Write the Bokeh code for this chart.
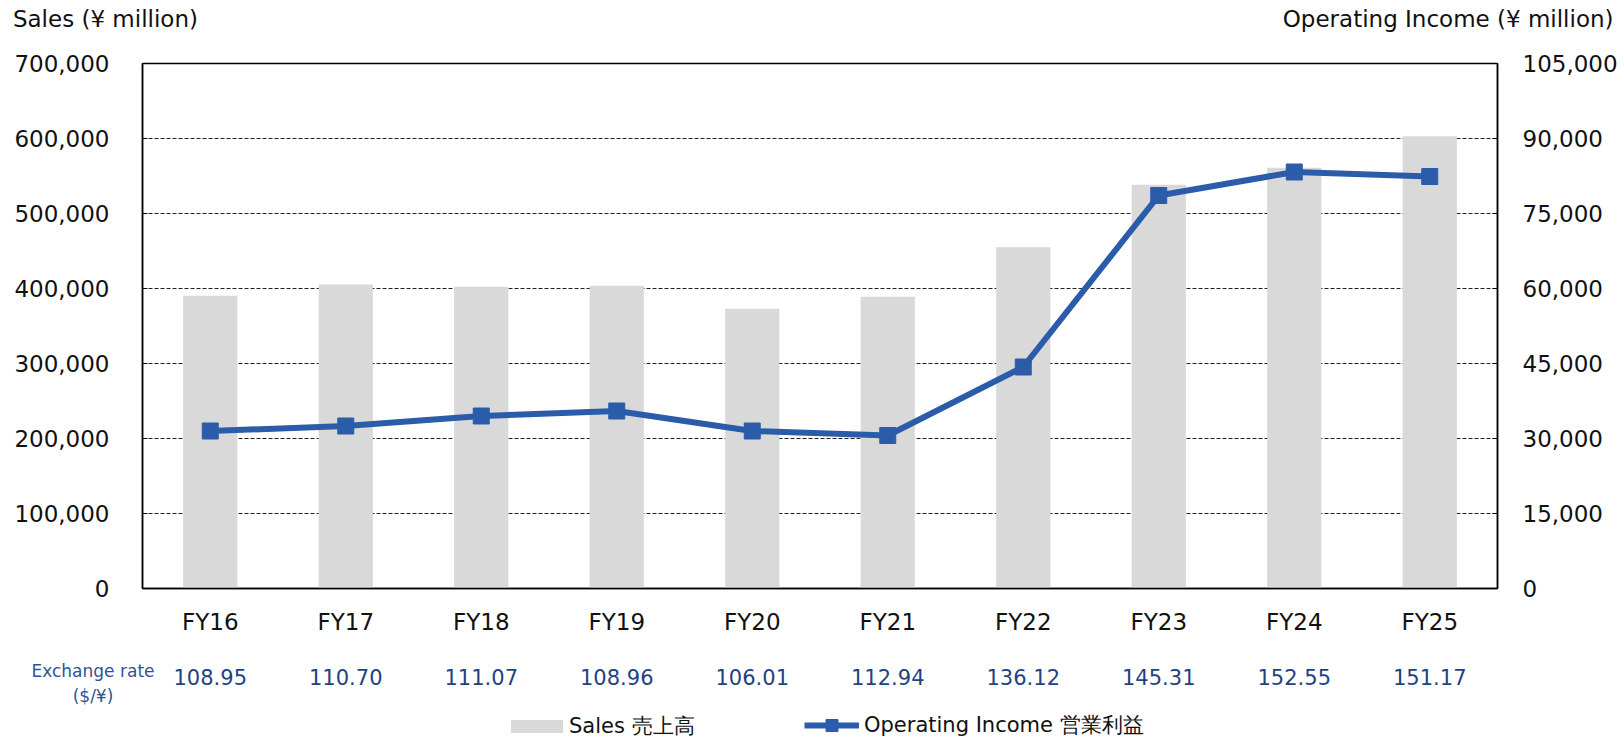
from bokeh.plotting import figure
from bokeh.models import (Range1d, LinearAxis, FixedTicker, NumeralTickFormatter, FactorRange,
                          ColumnDataSource, Legend, LegendItem)
from bokeh.core.properties import value
from bokeh.embed import file_html
from bokeh.resources import INLINE

# ---- data ----
years = ["FY16", "FY17", "FY18", "FY19", "FY20", "FY21", "FY22", "FY23", "FY24", "FY25"]
sales = [390400, 405500, 402500, 403700, 373000, 389000, 455000, 538500, 561000, 603000]
op_income = [31500, 32500, 34500, 35500, 31500, 30600, 44300, 78600, 83300, 82400]
fx_rates = ["108.95", "110.70", "111.07", "108.96", "106.01", "112.94", "136.12", "145.31", "152.55", "151.17"]
sales_ticks = [0, 100000, 200000, 300000, 400000, 500000, 600000, 700000]
oi_ticks = [0, 15000, 30000, 45000, 60000, 75000, 90000, 105000]

FONT = "DejaVu Sans"
BLUE = "#2A5CAA"
BAR = "#D9D9D9"
TXT = "#111111"
FX_COLOR = "#1F4283"
FX_LABEL_COLOR = "#2E5496"

# ---- layout constants ----
W = 1624
LEFT = 142
FRAME_W = 1355
RIGHT = W - LEFT - FRAME_W
HEADER_H = 40
TOP = 23
FRAME_H = 525
BOTTOM = 57
FOOTER_H = 739 - HEADER_H - TOP - FRAME_H - BOTTOM
CAT_W = FRAME_W / len(years)
NAN = float("nan")


def blank(height, x_range, y_range):
    f = figure(width=W, height=height, x_range=x_range, y_range=y_range,
               x_axis_type=None, y_axis_type=None, min_border=0,
               output_backend="svg", toolbar_location=None)
    f.outline_line_color = None
    f.grid.visible = False
    f.background_fill_color = "white"
    f.border_fill_color = "white"
    return f


# ---- header with the two axis titles ----
header = blank(HEADER_H, Range1d(0, W), Range1d(0, HEADER_H))
header.text(x=[12.4], y=[13 + 9], text=["Sales (¥ million)"], text_font=value(FONT),
            text_font_size="23px", text_color=TXT, text_align="left", text_baseline="alphabetic")
header.text(x=[W - 11], y=[13 + 9], text=["Operating Income (¥ million)"], text_font=value(FONT),
            text_font_size="23px", text_color=TXT, text_align="right", text_baseline="alphabetic")

# ---- main chart ----
src = ColumnDataSource(data=dict(year=years, sales=sales, oi=op_income))

p = figure(x_range=FactorRange(*years, range_padding=0), y_range=Range1d(0, 700000),
           frame_width=FRAME_W, frame_height=FRAME_H,
           min_border_left=LEFT, min_border_right=RIGHT, min_border_top=TOP, min_border_bottom=BOTTOM,
           output_backend="svg", toolbar_location=None)
p.extra_y_ranges = {"oi": Range1d(0, 105000)}

p.yaxis.ticker = FixedTicker(ticks=sales_ticks)
p.yaxis.formatter = NumeralTickFormatter(format="0,0")
right_axis = LinearAxis(y_range_name="oi", ticker=FixedTicker(ticks=oi_ticks),
                        formatter=NumeralTickFormatter(format="0,0"))
p.add_layout(right_axis, "right")

for ax in [p.yaxis[0], right_axis]:
    ax.major_label_text_font = FONT
    ax.major_label_text_font_size = "23px"
    ax.major_label_text_color = TXT
    ax.axis_line_width = 1.5
    ax.axis_line_color = "black"
    ax.major_tick_in = 5
    ax.major_tick_out = 0
    ax.major_tick_line_color = "black"
    ax.minor_tick_line_color = None
p.yaxis[0].major_label_standoff = 33
right_axis.major_label_standoff = 25

p.xaxis.major_label_text_font = FONT
p.xaxis.major_label_text_font_size = "23px"
p.xaxis.major_label_text_color = TXT
p.xaxis.major_tick_line_color = None
p.xaxis.major_label_standoff = 14
p.xaxis.axis_line_width = 1.5
p.xaxis.axis_line_color = "black"

p.outline_line_color = "black"
p.outline_line_width = 1.5
p.xgrid.visible = False
p.ygrid.grid_line_color = "#222222"
p.ygrid.grid_line_dash = "4 2"
p.ygrid.grid_line_width = 1
p.background_fill_color = "white"
p.border_fill_color = "white"

p.vbar(x="year", top="sales", width=0.4, source=src, fill_color=BAR, line_color=None)
p.line(x="year", y="oi", source=src, y_range_name="oi", line_color=BLUE, line_width=6)
p.scatter(x="year", y="oi", source=src, y_range_name="oi", marker="square", size=16,
          fill_color=BLUE, line_color=BLUE)

# ---- footer: exchange rates + legend ----
footer = blank(FOOTER_H, Range1d(-LEFT / CAT_W, (W - LEFT) / CAT_W), Range1d(0, FOOTER_H))
fx_src = ColumnDataSource(data=dict(x=[i + 0.5 for i in range(len(years))], fx=fx_rates))
footer.text(x="x", y=FOOTER_H - 39.3 + 8, text="fx", source=fx_src, text_font=value(FONT),
            text_font_size="21px", text_color=FX_COLOR, text_align="center",
            text_baseline="alphabetic")
footer.text(x=[(92.5 - LEFT) / CAT_W] * 2, y=[FOOTER_H - 31.7 + 6, FOOTER_H - 55 + 5],
            text=["Exchange rate", "($/¥)"], text_font=value(FONT), text_font_size="17px",
            text_color=FX_LABEL_COLOR, text_align="center", text_baseline="alphabetic")

# legend proxies (NaN data: nothing is drawn, they only define the legend swatches)
sales_proxy = footer.vbar(x=[NAN], top=[NAN], width=0.4, fill_color=BAR, line_color=None)
oi_line_proxy = footer.line(x=[NAN, NAN], y=[NAN, NAN], line_color=BLUE, line_width=6)
oi_mark_proxy = footer.scatter(x=[NAN], y=[NAN], marker="square", fill_color=BLUE, line_color=BLUE)

common = dict(orientation="horizontal", padding=0, margin=0, border_line_color=None,
              background_fill_alpha=0, label_text_font=FONT,
              label_text_font_size="21px", label_text_color=TXT)
leg1 = Legend(items=[LegendItem(label="Sales 売上高", renderers=[sales_proxy])],
              location=(504, -1), glyph_width=65, glyph_height=16, label_standoff=0, **common)
leg2 = Legend(items=[LegendItem(label="Operating Income 営業利益", renderers=[oi_line_proxy, oi_mark_proxy])],
              location=(804, -1), glyph_width=55, glyph_height=30, label_standoff=5, **common)
footer.add_layout(leg1)
footer.add_layout(leg2)

open("out.html", "w").write(file_html([header, p, footer], INLINE))
